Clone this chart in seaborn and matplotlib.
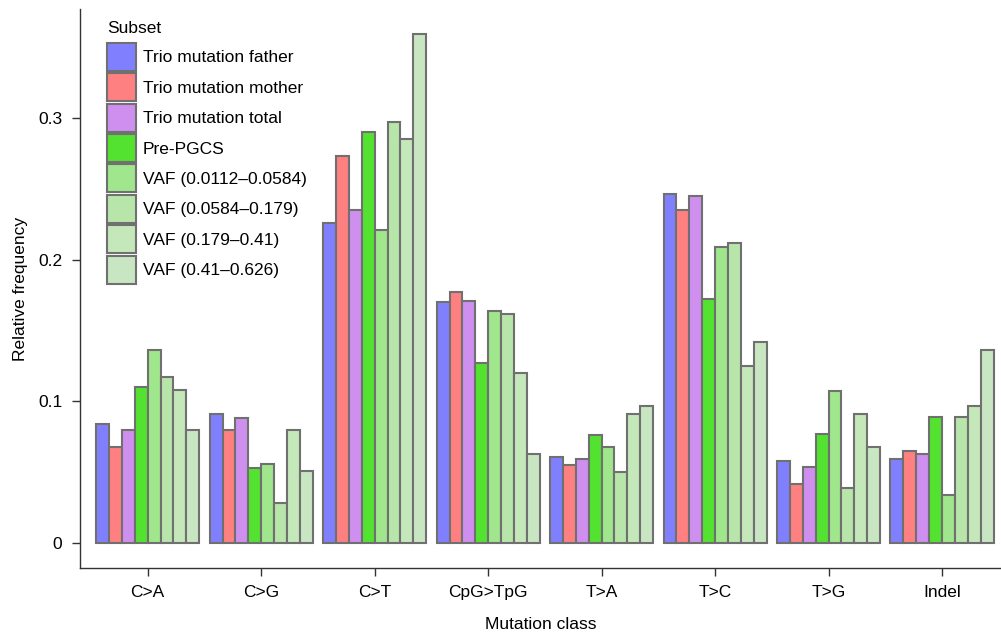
import matplotlib
matplotlib.use("Agg")
import matplotlib.pyplot as plt
import seaborn as sns
import pandas as pd

# Mutation classes on the x axis
classes = ["C>A", "C>G", "C>T", "CpG>TpG", "T>A", "T>C", "T>G", "Indel"]

# Relative frequency of each mutation class per subset
trio_father = [0.084, 0.091, 0.226, 0.170, 0.061, 0.246, 0.058, 0.059]
trio_mother = [0.068, 0.080, 0.273, 0.177, 0.055, 0.235, 0.042, 0.065]
trio_total = [0.080, 0.088, 0.235, 0.171, 0.059, 0.245, 0.054, 0.063]
pre_pgcs = [0.110, 0.053, 0.290, 0.127, 0.076, 0.172, 0.077, 0.089]
vaf_1 = [0.136, 0.056, 0.221, 0.164, 0.068, 0.209, 0.107, 0.034]
vaf_2 = [0.117, 0.028, 0.297, 0.162, 0.050, 0.212, 0.039, 0.089]
vaf_3 = [0.108, 0.080, 0.285, 0.120, 0.091, 0.125, 0.091, 0.097]
vaf_4 = [0.080, 0.051, 0.359, 0.063, 0.097, 0.142, 0.068, 0.136]

subsets = [
    "Trio mutation father",
    "Trio mutation mother",
    "Trio mutation total",
    "Pre-PGCS",
    "VAF (0.0112\u20130.0584)",
    "VAF (0.0584\u20130.179)",
    "VAF (0.179\u20130.41)",
    "VAF (0.41\u20130.626)",
]
series = [trio_father, trio_mother, trio_total, pre_pgcs, vaf_1, vaf_2, vaf_3, vaf_4]
colors = ["#8080FF", "#FF8080", "#CF8FEF", "#52E22F",
          "#A0E68C", "#B8E6AA", "#C4E8BA", "#C9E6C3"]

rows = []
for name, vals in zip(subsets, series):
    for cls, v in zip(classes, vals):
        rows.append({"Mutation class": cls, "Subset": name, "Relative frequency": v})
df = pd.DataFrame(rows)

FS = 12.5

sns.set_style("ticks")
plt.rcParams["font.family"] = ["Liberation Sans", "DejaVu Sans"]
plt.rcParams["font.size"] = FS
plt.rcParams["text.color"] = "black"
plt.rcParams["axes.labelcolor"] = "black"

fig = plt.figure(figsize=(10.01, 6.32), dpi=100)
ax = fig.add_axes([80 / 1001, 64 / 632, 921 / 1001, 559 / 632])

sns.barplot(
    data=df, x="Mutation class", y="Relative frequency", hue="Subset",
    order=classes, hue_order=subsets, palette=colors,
    width=0.908, edgecolor="#707070", linewidth=1.5, saturation=1,
    errorbar=None, ax=ax,
)

ax.set_xlim(-0.597, 7.52)
ax.set_ylim(-0.0176, 0.3769)
ax.set_yticks([0, 0.1, 0.2, 0.3])
ax.set_yticklabels(["0", "0.1", "0.2", "0.3"])
ax.tick_params(axis="both", direction="out", length=5.5, width=1,
               color="#333333", labelsize=FS, labelcolor="black")
ax.tick_params(axis="x", pad=6.7)
ax.tick_params(axis="y", pad=7.2)

for side in ["top", "right"]:
    ax.spines[side].set_visible(False)
for side in ["left", "bottom"]:
    ax.spines[side].set_color("#333333")
    ax.spines[side].set_linewidth(1)

ax.set_xlabel("Mutation class", fontsize=FS, labelpad=12)
ax.set_ylabel("Relative frequency", fontsize=FS, labelpad=7)

sns.move_legend(
    ax, loc="upper left", bbox_to_anchor=(107 / 1001, 1 - 21 / 632),
    bbox_transform=fig.transFigure, frameon=False, title="Subset",
    fontsize=FS, title_fontsize=FS, handlelength=1.67, handleheight=2.1,
    labelspacing=0.14, handletextpad=0.4, borderpad=0, borderaxespad=0,
    alignment="left",
)
leg = ax.get_legend()
# a little more room between the legend title and its entries
leg._legend_box.sep = 5.0
for t in leg.get_texts():
    t.set_color("black")
leg.get_title().set_color("black")

fig.savefig("out.png", dpi=100)
